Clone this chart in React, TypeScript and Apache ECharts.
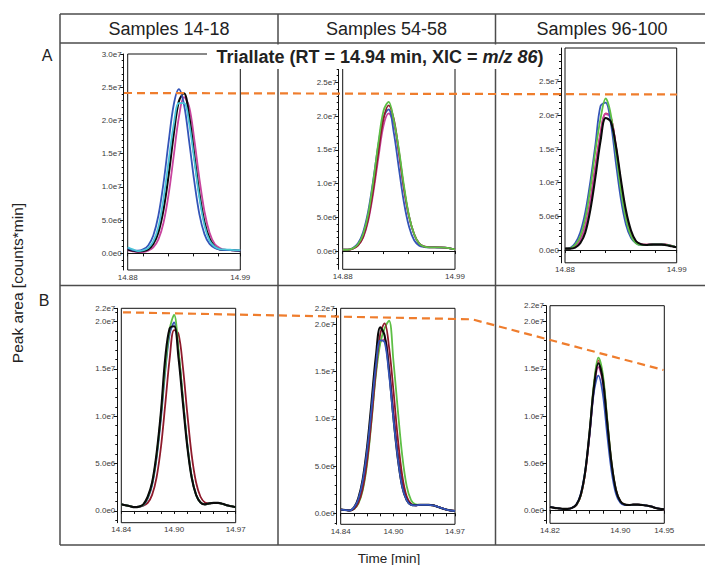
import React, { useEffect, useRef } from "react";
import * as echarts from "echarts";

// ---------- data (peak area, units of 1e6 counts*min) ----------
const X_A = [14.88, 14.885, 14.89, 14.895, 14.9, 14.905, 14.91, 14.915, 14.92, 14.925, 14.93, 14.935, 14.94, 14.945, 14.95, 14.955, 14.96, 14.965, 14.97, 14.975, 14.98, 14.985, 14.99];
const X_B12 = [14.84, 14.845, 14.85, 14.855, 14.86, 14.865, 14.87, 14.875, 14.88, 14.885, 14.89, 14.895, 14.9, 14.905, 14.91, 14.915, 14.92, 14.925, 14.93, 14.935, 14.94, 14.945, 14.95, 14.955, 14.96, 14.965, 14.97];
const X_B3 = [14.82, 14.825, 14.83, 14.835, 14.84, 14.845, 14.85, 14.855, 14.86, 14.865, 14.87, 14.875, 14.88, 14.885, 14.89, 14.895, 14.9, 14.905, 14.91, 14.915, 14.92, 14.925, 14.93, 14.935, 14.94, 14.945, 14.95];

const A1_magenta = [0.5, 0.3, 0.2, 0.2, 0.4, 0.9, 2.1, 4.6, 8.9, 14.7, 20.5, 23.5, 22.1, 17.2, 11.3, 6.3, 3.1, 1.4, 0.8, 0.55, 0.5, 0.45, 0.4];
const A1_black = [0.6, 0.4, 0.3, 0.35, 0.6, 1.4, 3.2, 6.6, 11.8, 18.0, 22.9, 24.1, 20.7, 14.8, 9.0, 4.7, 2.2, 1.0, 0.6, 0.5, 0.5, 0.45, 0.4];
const A1_blue = [0.8, 0.5, 0.4, 0.6, 1.2, 2.7, 5.7, 10.6, 16.8, 22.4, 24.7, 22.4, 16.9, 10.9, 5.9, 2.9, 1.4, 0.8, 0.55, 0.5, 0.5, 0.45, 0.4];
const A1_cyan = [0.9, 0.6, 0.35, 0.45, 0.8, 1.8, 4.0, 8.2, 13.9, 19.4, 22.6, 22.6, 19.6, 14.1, 8.4, 4.2, 1.9, 1.0, 0.65, 0.6, 0.55, 0.5, 0.5];

const A2_magenta = [0.2, 0.2, 0.35, 0.85, 2.0, 4.5, 8.7, 13.9, 18.6, 20.4, 19.0, 14.5, 9.2, 5.1, 2.5, 1.1, 0.7, 0.6, 0.6, 0.55, 0.5, 0.4, 0.25];
const A2_blue = [0.2, 0.2, 0.45, 1.15, 2.8, 5.9, 10.6, 15.8, 19.9, 21.0, 17.6, 12.3, 7.2, 3.6, 1.6, 0.8, 0.6, 0.55, 0.55, 0.5, 0.5, 0.4, 0.25];
const A2_maroon = [0.2, 0.2, 0.37, 0.85, 2.1, 4.8, 9.2, 14.7, 19.6, 21.6, 19.6, 14.8, 9.3, 5.1, 2.5, 1.1, 0.65, 0.55, 0.55, 0.55, 0.5, 0.4, 0.25];
const A2_green = [0.2, 0.2, 0.4, 1.0, 2.5, 5.5, 10.4, 16.1, 20.8, 22.1, 19.4, 15.1, 9.7, 5.2, 2.5, 1.1, 0.65, 0.55, 0.55, 0.55, 0.5, 0.4, 0.25];

const A3_red = [0.2, 0.25, 0.55, 1.5, 3.6, 7.4, 12.5, 17.4, 20.3, 19.8, 15.6, 10.0, 5.4, 2.6, 1.2, 0.85, 0.8, 0.85, 0.9, 0.9, 0.8, 0.6, 0.4];
const A3_magenta = [0.2, 0.25, 0.55, 1.4, 3.5, 7.2, 12.3, 17.2, 20.2, 19.7, 15.4, 9.9, 5.3, 2.5, 1.2, 0.85, 0.8, 0.85, 0.9, 0.9, 0.8, 0.6, 0.4];
const A3_blue = [0.2, 0.3, 1.0, 2.6, 5.6, 10.2, 15.7, 21.4, 21.9, 19.0, 13.1, 7.6, 3.8, 1.8, 1.0, 0.75, 0.75, 0.8, 0.85, 0.85, 0.75, 0.6, 0.4];
const A3_green = [0.2, 0.25, 0.75, 2.0, 4.7, 9.2, 14.8, 19.5, 22.5, 20.2, 14.7, 8.9, 4.6, 2.1, 1.0, 0.75, 0.75, 0.8, 0.85, 0.85, 0.75, 0.6, 0.4];
const A3_black = [0.2, 0.2, 0.35, 1.0, 2.6, 6.0, 10.9, 16.2, 19.6, 19.1, 15.6, 10.5, 5.9, 2.9, 1.3, 0.85, 0.75, 0.8, 0.8, 0.8, 0.7, 0.55, 0.4];

const B1_maroon = [0.7, 0.6, 0.5, 0.4, 0.45, 0.55, 0.85, 1.7, 3.5, 6.7, 11.3, 16.1, 19.1, 18.7, 15.2, 10.3, 5.9, 3.0, 1.5, 0.9, 0.8, 0.85, 0.85, 0.75, 0.6, 0.5, 0.4];
const B1_blue = [0.7, 0.6, 0.5, 0.4, 0.45, 0.6, 1.3, 2.7, 5.5, 9.7, 14.8, 18.7, 19.9, 16.8, 11.9, 7.1, 3.6, 1.7, 0.9, 0.7, 0.8, 0.85, 0.85, 0.75, 0.6, 0.5, 0.4];
const B1_green = [0.7, 0.6, 0.5, 0.4, 0.45, 0.65, 1.4, 2.9, 5.8, 10.1, 15.2, 19.2, 20.7, 17.0, 11.9, 7.0, 3.6, 1.7, 0.9, 0.7, 0.8, 0.85, 0.85, 0.75, 0.6, 0.5, 0.4];
const B1_black = [0.7, 0.6, 0.5, 0.4, 0.45, 0.7, 1.5, 3.0, 6.0, 10.4, 16.2, 19.3, 19.5, 16.2, 11.4, 6.8, 3.5, 1.7, 0.9, 0.7, 0.8, 0.85, 0.85, 0.75, 0.6, 0.5, 0.4];

const B2_magenta = [0.4, 0.35, 0.3, 0.5, 1.3, 3.0, 6.1, 10.5, 15.1, 18.1, 18.4, 15.5, 10.9, 6.4, 3.2, 1.5, 0.95, 0.85, 0.9, 0.9, 0.9, 0.85, 0.7, 0.55, 0.4, 0.3, 0.25];
const B2_green = [0.4, 0.35, 0.3, 0.45, 1.0, 2.4, 5.2, 9.7, 14.6, 18.0, 19.6, 20.4, 16.1, 10.9, 6.1, 2.9, 1.4, 0.95, 0.9, 0.9, 0.9, 0.85, 0.7, 0.55, 0.4, 0.3, 0.25];
const B2_maroon = [0.4, 0.35, 0.3, 0.45, 1.1, 2.6, 5.5, 9.9, 15.0, 19.0, 20.1, 17.6, 13.0, 7.9, 4.0, 1.8, 1.0, 0.85, 0.9, 0.9, 0.9, 0.85, 0.7, 0.55, 0.4, 0.3, 0.25];
const B2_black = [0.4, 0.35, 0.3, 0.6, 1.6, 3.6, 7.0, 11.7, 16.6, 19.7, 18.8, 15.1, 10.1, 5.8, 2.8, 1.4, 0.9, 0.85, 0.9, 0.9, 0.9, 0.85, 0.7, 0.55, 0.4, 0.3, 0.25];
const B2_blue = [0.4, 0.35, 0.3, 0.6, 1.5, 3.4, 6.6, 11.0, 15.6, 18.3, 18.1, 14.7, 10.0, 5.8, 2.8, 1.4, 0.9, 0.85, 0.9, 0.9, 0.9, 0.85, 0.7, 0.55, 0.4, 0.3, 0.25];

const B3_magenta = [0.4, 0.3, 0.25, 0.2, 0.2, 0.3, 0.6, 1.6, 4.0, 8.0, 12.8, 15.2, 13.6, 9.2, 4.8, 2.1, 1.0, 0.65, 0.6, 0.65, 0.65, 0.6, 0.55, 0.45, 0.3, 0.2, 0.15];
const B3_red = [0.4, 0.3, 0.25, 0.2, 0.2, 0.3, 0.6, 1.6, 4.0, 8.2, 13.2, 15.9, 14.2, 9.6, 5.0, 2.2, 1.0, 0.65, 0.6, 0.65, 0.65, 0.6, 0.55, 0.45, 0.3, 0.2, 0.15];
const B3_green = [0.4, 0.3, 0.25, 0.2, 0.2, 0.3, 0.6, 1.6, 4.1, 8.4, 13.5, 16.2, 14.5, 9.8, 5.1, 2.2, 1.0, 0.65, 0.6, 0.65, 0.65, 0.6, 0.55, 0.45, 0.3, 0.2, 0.15];
const B3_blue = [0.4, 0.3, 0.25, 0.2, 0.2, 0.3, 0.65, 1.8, 4.2, 8.1, 12.6, 14.3, 12.4, 8.1, 4.2, 1.8, 0.85, 0.6, 0.6, 0.65, 0.65, 0.6, 0.55, 0.45, 0.3, 0.2, 0.15];
const B3_black = [0.4, 0.3, 0.25, 0.2, 0.2, 0.3, 0.65, 1.7, 4.1, 8.3, 13.1, 15.6, 13.9, 9.4, 5.0, 2.2, 1.0, 0.65, 0.6, 0.65, 0.65, 0.6, 0.55, 0.45, 0.3, 0.2, 0.15];

// tick labels
const COLUMN_HEADERS = ["Samples 14-18", "Samples 54-58", "Samples 96-100"];
const ROW_LABELS = ["A", "B"];
const X_LABELS_A = [14.88, 14.99];
const X_TICKS_A = [14.88, 14.8953, 14.9197, 14.9441, 14.9685, 14.99];
const X_LABELS_B12 = [14.84, 14.9, 14.97];
const X_TICKS_B12 = [14.84, 14.855, 14.87, 14.885, 14.9, 14.915, 14.93, 14.945, 14.96, 14.97];
const X_LABELS_B3 = [14.82, 14.9, 14.95];
const X_TICKS_B3 = [14.82, 14.835, 14.85, 14.865, 14.88, 14.9, 14.915, 14.93, 14.95];
const Y_LABELS_A1 = [0, 5, 10, 15, 20, 25, 30];
const Y_LABELS_A23 = [0, 5, 10, 15, 20, 25];
const Y_LABELS_B = [0, 5, 10, 15, 20];

// ---------- styling ----------
const FONT = '"Liberation Sans", Arial, Helvetica, sans-serif';
const C = {
  blue: "#3454b8",
  black: "#0a0a0a",
  magenta: "#c8449e",
  cyan: "#4cc4d8",
  green: "#5dbf45",
  maroon: "#8e1a2b",
  red: "#d4243f",
};

const PANELS = [
  {
    grid: { left: 127.7, top: 54, width: 112.6, height: 216 }, xr: [14.88, 14.99], yr: [-2.5, 30],
    x: X_A, xl: X_LABELS_A, xt: X_TICKS_A, yl: Y_LABELS_A1, maxLabel: null as string | null,
    s: [[A1_magenta, C.magenta], [A1_black, C.black], [A1_blue, C.blue], [A1_cyan, C.cyan]],
  },
  {
    grid: { left: 342.7, top: 48.6, width: 112.3, height: 220.7 }, xr: [14.88, 14.99], yr: [-2.7, 30],
    x: X_A, xl: X_LABELS_A, xt: X_TICKS_A, yl: Y_LABELS_A23, maxLabel: null,
    s: [[A2_magenta, C.magenta], [A2_blue, C.blue], [A2_maroon, C.maroon], [A2_green, C.green]],
  },
  {
    grid: { left: 565, top: 48, width: 111.7, height: 214.8 }, xr: [14.88, 14.99], yr: [-1.9, 30],
    x: X_A, xl: X_LABELS_A, xt: X_TICKS_A, yl: Y_LABELS_A23, maxLabel: null,
    s: [[A3_red, C.red], [A3_magenta, C.magenta], [A3_blue, C.blue], [A3_green, C.green], [A3_black, C.black]],
  },
  {
    grid: { left: 121.3, top: 308.3, width: 114.4, height: 214.4 }, xr: [14.84, 14.97], yr: [-1.24, 21.4],
    x: X_B12, xl: X_LABELS_B12, xt: X_TICKS_B12, yl: Y_LABELS_B, maxLabel: "2.2e7",
    s: [[B1_maroon, C.maroon], [B1_blue, C.blue], [B1_green, C.green], [B1_black, C.black]],
  },
  {
    grid: { left: 340.7, top: 308.3, width: 114.3, height: 216 }, xr: [14.84, 14.97], yr: [-1.16, 21.7],
    x: X_B12, xl: X_LABELS_B12, xt: X_TICKS_B12, yl: Y_LABELS_B, maxLabel: "2.2e7",
    s: [[B2_magenta, C.magenta], [B2_green, C.green], [B2_maroon, C.maroon], [B2_black, C.black], [B2_blue, C.blue]],
  },
  {
    grid: { left: 550, top: 305.7, width: 114.3, height: 217.6 }, xr: [14.82, 14.95], yr: [-1.33, 21.69],
    x: X_B3, xl: X_LABELS_B3, xt: X_TICKS_B3, yl: Y_LABELS_B, maxLabel: "2.2e7",
    s: [[B3_magenta, C.magenta], [B3_red, C.red], [B3_green, C.green], [B3_blue, C.blue], [B3_black, C.black]],
  },
];

function buildOption() {
  const grid: any[] = [];
  const xAxis: any[] = [];
  const yAxis: any[] = [];
  const series: any[] = [];

  PANELS.forEach((p, i) => {
    grid.push({ ...p.grid, show: true, borderColor: "#111", borderWidth: 1, backgroundColor: "transparent", containLabel: false });
    xAxis.push({
      type: "value", gridIndex: i, min: p.xr[0], max: p.xr[1],
      axisLine: { show: true, lineStyle: { color: "#111", width: 1 } },
      axisTick: { show: true, customValues: p.xt, length: 3, inside: false, lineStyle: { color: "#111" } },
      axisLabel: { show: true, customValues: p.xl, formatter: (v: number) => v.toFixed(2), fontSize: 8, color: "#3a3a3a", fontFamily: FONT, margin: 3 },
      splitLine: { show: false },
    });
    const yLabels = p.maxLabel ? [...p.yl, p.yr[1]] : p.yl;
    const minors: number[] = [];
    for (let v = Math.ceil(p.yr[0]); v <= Math.floor(p.yr[1]); v++) if (v % 5 !== 0) minors.push(v);
    yAxis.push({
      type: "value", gridIndex: i, min: p.yr[0], max: p.yr[1], position: "left", offset: 4,
      axisLine: { show: true, lineStyle: { color: "#111", width: 1 } },
      axisTick: { show: true, customValues: yLabels, length: 3.5, lineStyle: { color: "#111" } },
      axisLabel: {
        show: true, customValues: yLabels, fontSize: 8, color: "#3a3a3a", fontFamily: FONT, margin: 2,
        formatter: (v: number) => (p.maxLabel && Math.abs(v - p.yr[1]) < 1e-9 ? p.maxLabel : (v * 1e6).toExponential(1).replace("+", "")),
      },
      splitLine: { show: false },
    });
    yAxis.push({
      type: "value", gridIndex: i, min: p.yr[0], max: p.yr[1], position: "left", offset: 4,
      axisLine: { show: false },
      axisTick: { show: true, customValues: minors, length: 2, lineStyle: { color: "#111" } },
      axisLabel: { show: false },
      splitLine: { show: false },
    });
    p.s.forEach(([vals, color]) => {
      series.push({
        type: "line", xAxisIndex: i, yAxisIndex: i * 2, showSymbol: false, smooth: 0.35,
        lineStyle: { color, width: color === C.black ? 2.1 : 1.8 },
        itemStyle: { color },
        data: p.x.map((x, k) => [x, (vals as number[])[k]]),
        z: 3,
      });
    });
  });

  const tableColor = "#4d4d4d";
  const tableLines = [
    [60, 14, 705, 14], [60, 43, 705, 43], [60, 285.5, 705, 285.5], [60, 545, 705, 545],
    [60, 14, 60, 545], [278, 14, 278, 545], [495.5, 14, 495.5, 545],
  ];
  const txt = (x: number, y: number, text: string, size: number) => ({
    type: "text", x, y, z: 60,
    style: { text, fontSize: size, fontFamily: FONT, fill: "#222", align: "center", verticalAlign: "middle", textAlign: "center", textVerticalAlign: "middle" },
  });
  const headerX = [169, 386.5, 602];

  const graphic: any[] = [
    ...tableLines.map(([x1, y1, x2, y2]) => ({ type: "line", z: 1, shape: { x1, y1, x2, y2 }, style: { stroke: tableColor, lineWidth: 1.5 } })),
    ...COLUMN_HEADERS.map((h, i) => txt(headerX[i], 29, h, 18)),
    txt(47, 55, ROW_LABELS[0], 16),
    txt(44, 300, ROW_LABELS[1], 16),
    { type: "text", x: 17, y: 283, rotation: Math.PI / 2, z: 60, style: { text: "Peak area [counts*min]", fontSize: 15.5, fontFamily: FONT, fill: "#222", align: "center", verticalAlign: "middle", textAlign: "center", textVerticalAlign: "middle" } },
    txt(389, 558, "Time [min]", 13.5),
    { type: "polyline", z: 40, shape: { points: [[124, 93], [677, 94.5]] }, style: { stroke: "#ef7d2d", lineWidth: 2.2, lineDash: [8, 5], fill: null } },
    { type: "polyline", z: 40, shape: { points: [[123, 312.3], [472, 319.3], [663.5, 370]] }, style: { stroke: "#ef7d2d", lineWidth: 2.2, lineDash: [8, 5], fill: null } },
    { type: "rect", z: 50, shape: { x: 207, y: 44.5, width: 347, height: 24.5 }, style: { fill: "#fff" } },
    {
      type: "text", x: 380, y: 56.5, z: 60,
      style: {
        text: "{b|Triallate (RT = 14.94 min, XIC = }{i|m/z 86}{b|)}",
        align: "center", verticalAlign: "middle", textAlign: "center", textVerticalAlign: "middle",
        rich: {
          b: { fontSize: 18, fontWeight: "bold", fontFamily: FONT, fill: "#222" },
          i: { fontSize: 18, fontWeight: "bold", fontStyle: "italic", fontFamily: FONT, fill: "#222" },
        },
      },
    },
  ];

  return { animation: false, backgroundColor: "#fff", grid, xAxis, yAxis, series, graphic };
}

export default function App() {
  const ref = useRef<HTMLDivElement>(null);
  useEffect(() => {
    const chart = echarts.init(ref.current!, null, { renderer: "svg" });
    chart.setOption(buildOption() as any);
    return () => chart.dispose();
  }, []);
  return <div ref={ref} style={{ position: "fixed", left: 0, top: 0, width: 705, height: 565, background: "#fff" }} />;
}
